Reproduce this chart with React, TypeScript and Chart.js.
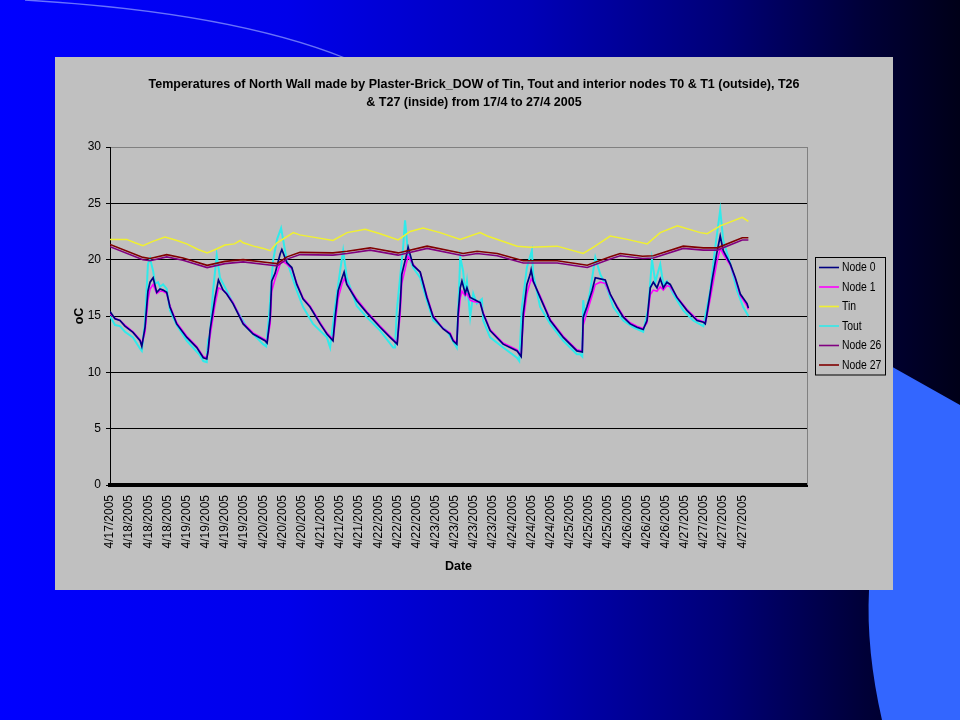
import { useEffect, useRef } from 'react';
import { Chart, registerables } from 'chart.js';

Chart.register(...registerables);

// ---------- DATA ----------
// x positions are expressed in "label steps" along the date axis (0 = first label)
const dateLabels = [
  '4/17/2005',
  '4/18/2005', '4/18/2005', '4/18/2005',
  '4/19/2005', '4/19/2005', '4/19/2005', '4/19/2005',
  '4/20/2005', '4/20/2005', '4/20/2005',
  '4/21/2005', '4/21/2005', '4/21/2005',
  '4/22/2005', '4/22/2005', '4/22/2005',
  '4/23/2005', '4/23/2005', '4/23/2005', '4/23/2005',
  '4/24/2005', '4/24/2005', '4/24/2005',
  '4/25/2005', '4/25/2005', '4/25/2005',
  '4/26/2005', '4/26/2005', '4/26/2005',
  '4/27/2005', '4/27/2005', '4/27/2005', '4/27/2005',
];
const axisEnd = 36.38;

const yTicks = [0, 5, 10, 15, 20, 25, 30];

const seriesNames = ['Node 0', 'Node 1', 'Tin', 'Tout', 'Node 26', 'Node 27'];

const node0: [number, number][] = [
  [0, 15.4], [0.26, 14.75], [0.52, 14.6], [0.78, 14.1], [1.2, 13.55], [1.57, 12.8], [1.66, 12.3],
  [1.83, 14.0], [1.98, 17.2], [2.09, 18.0], [2.25, 18.4], [2.44, 17.1], [2.61, 17.4], [2.77, 17.3],
  [2.96, 17.1], [3.13, 15.8], [3.48, 14.3], [4.01, 13.1], [4.53, 12.2], [4.87, 11.3], [5.05, 11.2],
  [5.12, 11.9], [5.22, 13.7], [5.48, 16.6], [5.66, 18.2], [5.9, 17.3], [6.09, 16.95], [6.42, 16.1],
  [6.95, 14.3], [7.47, 13.4], [8.09, 12.8], [8.2, 12.6], [8.36, 14.9], [8.44, 18.1], [8.62, 18.8],
  [8.88, 20.5], [8.97, 20.9], [9.23, 19.75], [9.49, 19.3], [9.75, 17.8], [10.08, 16.5], [10.44, 15.8],
  [10.97, 14.3], [11.32, 13.4], [11.64, 12.8], [11.75, 14.9], [11.91, 17.25], [12.1, 18.3], [12.22, 18.9],
  [12.36, 17.8], [12.88, 16.35], [13.4, 15.3], [14.1, 14.0], [14.62, 13.1], [14.99, 12.5], [15.14, 15.8],
  [15.23, 18.7], [15.49, 20.5], [15.56, 21.1], [15.82, 19.5], [16.19, 18.9], [16.54, 16.65], [16.87, 14.9],
  [17.39, 13.85], [17.75, 13.4], [17.91, 12.8], [18.1, 12.5], [18.17, 15.2], [18.28, 17.5], [18.37, 18.1],
  [18.54, 17.0], [18.63, 17.5], [18.8, 16.65], [18.96, 16.5], [19.32, 16.2], [19.48, 15.2], [19.84, 13.7],
  [20.52, 12.5], [21.25, 11.9], [21.46, 11.4], [21.57, 15.2], [21.76, 17.8], [21.93, 18.7], [21.98, 19.1],
  [22.09, 18.1], [22.45, 16.65], [22.98, 14.6], [23.66, 13.1], [24.37, 11.9], [24.65, 11.8], [24.7, 14.9],
  [24.89, 15.8], [25.16, 17.25], [25.33, 18.4], [25.59, 18.3], [25.85, 18.2], [26.11, 16.95], [26.46, 15.8],
  [26.79, 14.9], [27.15, 14.3], [27.5, 14.0], [27.83, 13.8], [28.03, 14.6], [28.2, 17.5], [28.36, 18.0],
  [28.55, 17.5], [28.72, 18.3], [28.88, 17.5], [29.07, 18.0], [29.24, 17.8], [29.59, 16.65], [30.11, 15.5],
  [30.64, 14.6], [30.97, 14.45], [31.07, 14.3], [31.16, 15.2], [31.42, 18.1], [31.68, 20.65], [31.85, 22.1],
  [32.01, 20.8], [32.38, 19.6], [32.64, 18.4], [32.9, 16.95], [33.25, 16.1], [33.32, 15.7],
];

const node1: [number, number][] = [
  [0, 15.2], [0.26, 14.8], [0.52, 14.6], [0.78, 14.2], [1.2, 13.6], [1.57, 12.9], [1.66, 12.5],
  [1.83, 13.6], [1.98, 16.4], [2.09, 17.4], [2.25, 17.8], [2.44, 17.0], [2.61, 17.2], [2.77, 17.2],
  [2.96, 17.0], [3.13, 15.9], [3.48, 14.4], [4.01, 13.2], [4.53, 12.3], [4.87, 11.4], [5.05, 11.3],
  [5.12, 11.8], [5.22, 13.2], [5.48, 16.0], [5.66, 17.5], [5.9, 17.3], [6.09, 17.0], [6.42, 16.2],
  [6.95, 14.4], [7.47, 13.5], [8.09, 12.9], [8.2, 12.7], [8.36, 14.3], [8.44, 17.2], [8.62, 18.3],
  [8.88, 19.6], [8.97, 19.9], [9.23, 19.6], [9.49, 19.2], [9.75, 17.9], [10.08, 16.6], [10.44, 15.9],
  [10.97, 14.4], [11.32, 13.5], [11.64, 12.9], [11.75, 14.3], [11.91, 16.6], [12.1, 17.8], [12.22, 18.3],
  [12.36, 17.9], [12.88, 16.5], [13.4, 15.4], [14.1, 14.1], [14.62, 13.2], [14.99, 12.6], [15.14, 15.0],
  [15.23, 17.9], [15.49, 19.8], [15.56, 20.3], [15.82, 19.6], [16.19, 18.9], [16.54, 16.8], [16.87, 15.0],
  [17.39, 13.9], [17.75, 13.5], [17.91, 12.9], [18.1, 12.6], [18.17, 14.6], [18.28, 16.6], [18.37, 17.2],
  [18.54, 16.8], [18.63, 17.0], [18.8, 16.4], [18.96, 16.3], [19.32, 16.2], [19.48, 15.3], [19.84, 13.8],
  [20.52, 12.6], [21.25, 12.0], [21.46, 11.5], [21.57, 14.6], [21.76, 17.0], [21.93, 18.0], [21.98, 18.3],
  [22.09, 18.0], [22.45, 16.8], [22.98, 14.7], [23.66, 13.2], [24.37, 12.0], [24.65, 11.9], [24.7, 14.2],
  [24.89, 15.3], [25.16, 16.8], [25.33, 17.8], [25.59, 18.0], [25.85, 17.9], [26.11, 16.9], [26.46, 15.9],
  [26.79, 15.0], [27.15, 14.4], [27.5, 14.1], [27.83, 13.9], [28.03, 14.4], [28.2, 16.9], [28.36, 17.3],
  [28.55, 17.2], [28.72, 17.6], [28.88, 17.3], [29.07, 17.7], [29.24, 17.6], [29.59, 16.7], [30.11, 15.6],
  [30.64, 14.7], [30.97, 14.5], [31.07, 14.4], [31.16, 15.0], [31.42, 17.4], [31.68, 19.8], [31.85, 21.0],
  [32.01, 20.5], [32.38, 19.5], [32.64, 18.3], [32.9, 16.8], [33.25, 15.9], [33.32, 15.6],
];

const tin: [number, number][] = [
  [0, 21.8], [0.87, 21.8], [1.3, 21.5], [1.72, 21.25], [2.2, 21.6], [2.87, 22.0], [3.5, 21.7],
  [4.0, 21.4], [4.6, 20.9], [5.07, 20.6], [5.5, 20.9], [6.0, 21.3], [6.5, 21.4], [6.79, 21.7],
  [6.95, 21.5], [7.5, 21.2], [8.0, 21.0], [8.36, 20.8], [8.72, 21.5], [9.57, 22.4], [9.9, 22.2],
  [10.6, 22.0], [11.64, 21.7], [12.38, 22.4], [13.32, 22.7], [14.1, 22.3], [15.04, 21.75], [15.67, 22.5],
  [16.34, 22.8], [17.23, 22.4], [18.28, 21.8], [19.32, 22.4], [19.69, 22.1], [21.25, 21.2], [21.93, 21.1],
  [23.34, 21.2], [24.7, 20.55], [25.22, 21.1], [26.11, 22.1], [27.0, 21.8], [28.04, 21.4], [28.72, 22.4],
  [29.61, 23.0], [30.81, 22.4], [31.17, 22.3], [31.85, 23.0], [33.0, 23.75], [33.32, 23.4],
];

const tout: [number, number][] = [
  [0, 15.0], [0.26, 14.2], [0.52, 14.1], [0.78, 13.6], [1.2, 13.1], [1.57, 12.1], [1.66, 11.9],
  [1.83, 14.5], [1.98, 19.6], [2.09, 20.1], [2.25, 19.0], [2.35, 17.9], [2.51, 18.0], [2.61, 17.6],
  [2.77, 17.8], [2.96, 17.4], [3.13, 15.5], [3.48, 14.2], [4.01, 12.8], [4.7, 11.5], [4.87, 11.0],
  [5.05, 10.9], [5.07, 11.8], [5.12, 12.9], [5.22, 13.3], [5.38, 17.25], [5.57, 20.4], [5.74, 18.4],
  [6.09, 17.25], [6.62, 15.5], [7.14, 14.0], [7.99, 12.5], [8.15, 12.3], [8.3, 15.0], [8.51, 19.9],
  [8.72, 21.8], [8.93, 22.8], [9.23, 19.9], [9.75, 17.25], [10.08, 15.8], [10.6, 14.3], [11.32, 13.1],
  [11.49, 12.2], [11.75, 15.8], [12.01, 19.0], [12.17, 20.8], [12.36, 18.4], [12.88, 15.9], [13.4, 14.9],
  [14.1, 13.7], [14.78, 12.2], [14.88, 12.2], [14.97, 15.5], [15.3, 21.1], [15.4, 23.5], [15.56, 20.5],
  [15.82, 19.3], [16.19, 18.4], [16.54, 16.35], [16.87, 14.6], [17.58, 13.7], [18.1, 12.2], [18.28, 20.2],
  [18.43, 19.0], [18.54, 17.0], [18.63, 18.1], [18.8, 14.9], [18.96, 17.0], [19.15, 16.1], [19.41, 16.5],
  [19.48, 14.6], [19.84, 13.1], [20.52, 12.2], [21.24, 11.3], [21.36, 11.0], [21.5, 15.8], [21.76, 19.3],
  [22.02, 20.8], [22.09, 18.7], [22.45, 15.8], [22.98, 14.3], [23.66, 12.8], [24.37, 11.6], [24.54, 11.6],
  [24.65, 11.4], [24.7, 16.4], [24.8, 15.0], [25.07, 17.3], [25.33, 20.2], [25.59, 18.7], [25.94, 17.5],
  [26.27, 15.8], [26.79, 14.6], [27.31, 14.0], [27.83, 13.6], [28.09, 15.6], [28.29, 20.0], [28.46, 18.0],
  [28.72, 19.6], [28.88, 17.8], [29.07, 18.1], [29.4, 16.95], [29.92, 15.5], [30.44, 14.6], [30.97, 14.1],
  [31.33, 17.25], [31.59, 21.1], [31.85, 24.4], [32.01, 21.7], [32.38, 19.6], [32.73, 17.25], [33.05, 15.8],
  [33.32, 15.0],
];

const node26: [number, number][] = [
  [0, 21.15], [1.72, 20.0], [2.09, 19.9], [2.96, 20.25], [3.81, 19.95], [5.07, 19.3], [6.0, 19.65],
  [6.95, 19.8], [8.2, 19.55], [8.72, 19.45], [9.24, 20.05], [9.92, 20.45], [11.64, 20.4], [12.38, 20.55],
  [13.58, 20.85], [15.04, 20.4], [16.55, 21.0], [18.43, 20.35], [19.16, 20.55], [20.21, 20.35], [21.57, 19.7],
  [23.34, 19.7], [24.91, 19.3], [26.11, 20.05], [26.63, 20.35], [27.8, 20.1], [28.36, 20.15], [29.92, 21.0],
  [30.97, 20.85], [31.7, 20.85], [33.0, 21.75], [33.32, 21.75],
];

const node27: [number, number][] = [
  [0, 21.35], [1.72, 20.2], [2.09, 20.1], [2.96, 20.45], [3.81, 20.15], [5.07, 19.5], [6.0, 19.85],
  [6.95, 20.0], [8.2, 19.75], [8.72, 19.65], [9.24, 20.25], [9.92, 20.65], [11.64, 20.6], [12.38, 20.75],
  [13.58, 21.05], [15.04, 20.6], [16.55, 21.2], [18.43, 20.55], [19.16, 20.75], [20.21, 20.55], [21.57, 19.9],
  [23.34, 19.9], [24.91, 19.5], [26.11, 20.25], [26.63, 20.55], [27.8, 20.3], [28.36, 20.35], [29.92, 21.2],
  [30.97, 21.05], [31.7, 21.05], [33.0, 21.95], [33.32, 21.95],
];

const titleLines = [
  'Temperatures of North Wall made by Plaster-Brick_DOW of Tin, Tout and interior nodes T0 & T1 (outside), T26',
  '& T27 (inside) from 17/4 to 27/4 2005',
];

// ---------- STYLE ----------
const FONT = "'Liberation Sans', Arial, sans-serif";

const seriesColors = ['#000080', '#ff00ff', '#f0f030', '#30eaea', '#800080', '#800000'];
const seriesWidths = [1.7, 1.6, 1.5, 2, 1.6, 1.6];
const seriesOrder = [3, 4, 2, 5, 1, 0];

const toPoints = (arr: [number, number][]) => arr.map(([x, y]) => ({ x, y }));

const slidePlugin = {
  id: 'slideBackground',
  beforeDraw(chart: any) {
    const { ctx, width, height } = chart;
    ctx.save();
    const g = ctx.createLinearGradient(0, 0, width, 0);
    g.addColorStop(0, '#0000ff');
    g.addColorStop(0.3, '#0000ea');
    g.addColorStop(0.55, '#0000b8');
    g.addColorStop(0.75, '#000078');
    g.addColorStop(0.9, '#000038');
    g.addColorStop(1, '#000018');
    ctx.fillStyle = g;
    ctx.fillRect(0, 0, width, height);

    ctx.fillStyle = '#3366ff';
    ctx.beginPath();
    ctx.moveTo(880, 360);
    ctx.lineTo(width, 405);
    ctx.lineTo(width, height);
    ctx.lineTo(882, height);
    ctx.quadraticCurveTo(866, 650, 869, 590);
    ctx.lineTo(876, 450);
    ctx.closePath();
    ctx.fill();

    ctx.strokeStyle = 'rgba(160,175,255,0.65)';
    ctx.lineWidth = 1.3;
    ctx.beginPath();
    ctx.moveTo(25, 0);
    ctx.quadraticCurveTo(230, 12, 345, 58);
    ctx.stroke();

    ctx.fillStyle = '#c0c0c0';
    ctx.fillRect(55, 57, 838, 533);
    ctx.restore();
  },
};

const framePlugin = {
  id: 'plotFrame',
  beforeDatasetsDraw(chart: any) {
    const { ctx, chartArea } = chart;
    ctx.save();
    ctx.strokeStyle = '#808080';
    ctx.lineWidth = 1;
    ctx.beginPath();
    ctx.moveTo(Math.round(chartArea.right) + 0.5, chartArea.top);
    ctx.lineTo(Math.round(chartArea.right) + 0.5, chartArea.bottom);
    ctx.stroke();
    ctx.restore();
  },
};

const boxLegendPlugin = {
  id: 'boxLegend',
  afterDraw(chart: any) {
    const { ctx, chartArea } = chart;
    const ds = chart.data.datasets;
    const rowH = 19.5;
    const boxW = 70;
    const boxH = ds.length * rowH + 0.5;
    const left = chartArea.right + 8;
    const top = (chartArea.top + chartArea.bottom) / 2 - boxH / 2;
    ctx.save();
    ctx.strokeStyle = '#000000';
    ctx.lineWidth = 1;
    ctx.strokeRect(Math.round(left) + 0.5, Math.round(top) + 0.5, boxW, boxH);
    ctx.font = `13px ${FONT}`;
    ctx.textBaseline = 'middle';
    ctx.textAlign = 'left';
    ds.forEach((d: any, i: number) => {
      const cy = top + rowH / 2 + i * rowH + 0.5;
      ctx.strokeStyle = d.borderColor;
      ctx.lineWidth = 1.6;
      ctx.beginPath();
      ctx.moveTo(left + 4, cy);
      ctx.lineTo(left + 24, cy);
      ctx.stroke();
      ctx.fillStyle = '#000000';
      ctx.save();
      ctx.translate(left + 27, cy);
      ctx.scale(0.8, 1);
      ctx.fillText(d.label, 0, 0);
      ctx.restore();
    });
    ctx.restore();
  },
};

export default function App() {
  const canvasRef = useRef<HTMLCanvasElement | null>(null);

  useEffect(() => {
    if (!canvasRef.current) return;
    const sources = [node0, node1, tin, tout, node26, node27];
    const chart = new Chart(canvasRef.current, {
      type: 'line',
      data: {
        datasets: sources.map((src, i) => ({
          label: seriesNames[i],
          data: toPoints(src),
          borderColor: seriesColors[i],
          backgroundColor: seriesColors[i],
          borderWidth: seriesWidths[i],
          pointRadius: 0,
          tension: 0,
          fill: false,
          order: seriesOrder[i],
          xAxisID: 'x',
          yAxisID: 'y',
        })),
      },
      options: {
        responsive: false,
        animation: false,
        events: [],
        layout: { padding: { left: 55, right: 67, top: 75, bottom: 130 } },
        plugins: {
          legend: { display: false },
          tooltip: { enabled: false },
          title: {
            display: true,
            text: titleLines,
            color: '#000000',
            font: { family: FONT, size: 12.5, weight: 'bold', lineHeight: 1.45 },
            padding: { top: 0, bottom: 35.75 },
          },
        },
        scales: {
          x: {
            type: 'linear',
            min: 0,
            max: axisEnd,
            afterBuildTicks: (scale: any) => {
              scale.ticks = dateLabels.map((_, i) => ({ value: i }));
            },
            afterFit: (scale: any) => {
              scale.height = 105;
            },
            ticks: {
              autoSkip: false,
              minRotation: 90,
              maxRotation: 90,
              padding: 10,
              color: '#000000',
              font: { family: FONT, size: 12 },
              callback: (v: any) => dateLabels[Math.round(Number(v))] ?? '',
            },
            grid: { display: false, drawTicks: false },
            border: { display: true, color: '#000000', width: 4 },
            title: {
              display: true,
              text: 'Date',
              color: '#000000',
              font: { family: FONT, size: 12.5, weight: 'bold' },
              padding: { top: 0, bottom: 16 },
            },
          },
          y: {
            type: 'linear',
            position: 'left',
            min: 0,
            max: 30,
            afterBuildTicks: (scale: any) => {
              scale.ticks = yTicks.map((v) => ({ value: v }));
            },
            afterFit: (scale: any) => {
              scale.width = 55;
            },
            ticks: {
              padding: 5,
              color: '#000000',
              font: { family: FONT, size: 12 },
            },
            grid: {
              color: (c: any) => (c.tick && c.tick.value === 30 ? '#808080' : '#000000'),
              lineWidth: 1,
              drawTicks: true,
              tickLength: 4,
              tickColor: '#000000',
            },
            border: { display: true, color: '#000000', width: 1 },
            title: {
              display: true,
              text: 'oC',
              color: '#000000',
              font: { family: FONT, size: 12.5, weight: 'bold' },
              padding: { top: 17, bottom: 0 },
            },
          },
          y2: {
            type: 'linear',
            position: 'right',
            display: true,
            afterFit: (scale: any) => {
              scale.width = 86;
            },
            grid: { display: false, drawTicks: false },
            border: { display: false },
            ticks: { display: false },
          },
        },
      },
      plugins: [slidePlugin, framePlugin, boxLegendPlugin],
    } as any);
    return () => chart.destroy();
  }, []);

  return (
    <div style={{ position: 'absolute', left: 0, top: 0, width: 960, height: 720, overflow: 'hidden' }}>
      <canvas ref={canvasRef} width={960} height={720} style={{ display: 'block', width: 960, height: 720 }} />
    </div>
  );
}
